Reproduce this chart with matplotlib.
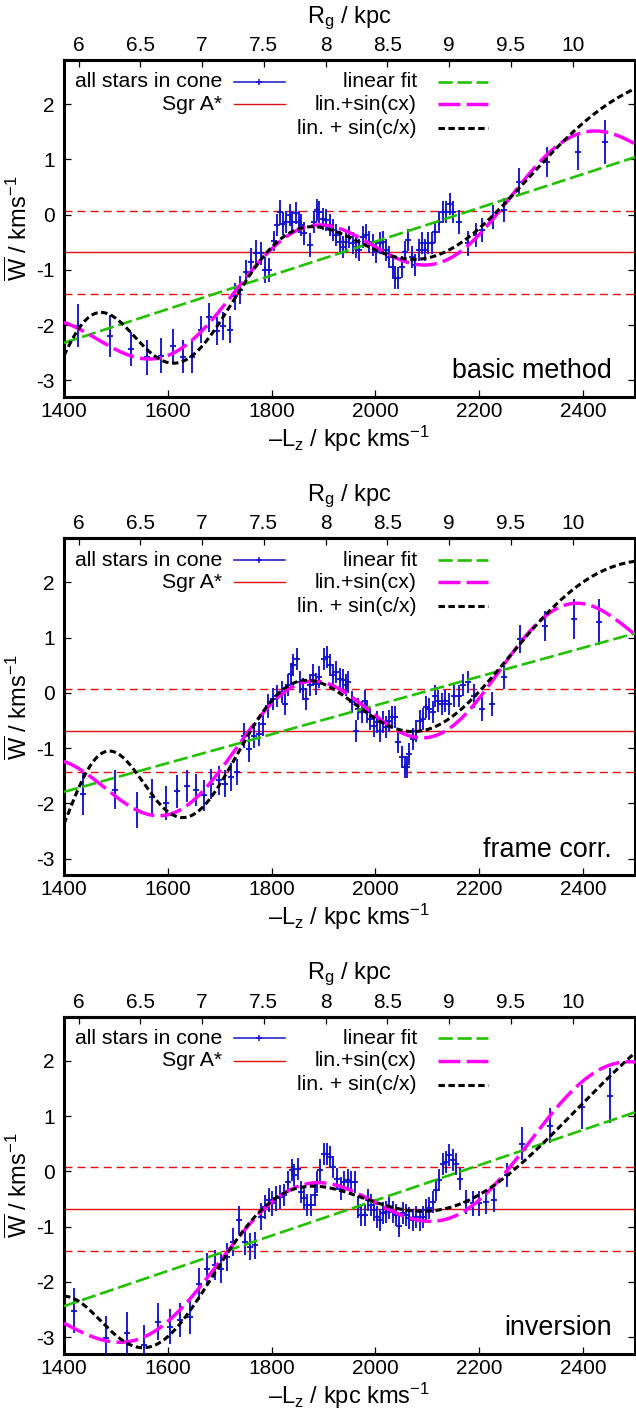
import numpy as np
import matplotlib
matplotlib.use("Agg")
import matplotlib.pyplot as plt

plt.rcParams['font.family'] = ['Liberation Sans', 'DejaVu Sans']
plt.rcParams['mathtext.fontset'] = 'custom'
plt.rcParams['mathtext.rm'] = 'Liberation Sans'
plt.rcParams['mathtext.it'] = 'Liberation Sans'
plt.rcParams['mathtext.default'] = 'regular'
plt.rcParams['axes.unicode_minus'] = False

# ---------------------------------------------------------------- data
panel_titles = ["basic method", "frame corr.", "inversion"]

lz_basic = [1427, 1488, 1529, 1560, 1587, 1610, 1629, 1647, 1664, 1679, 1694, 1706, 1719,
            1729, 1740, 1751, 1761, 1770, 1780, 1788, 1794, 1805, 1811, 1817, 1822, 1828,
            1835, 1839, 1846, 1852, 1857, 1863, 1873, 1881, 1887, 1892, 1899, 1905, 1912,
            1918, 1924, 1931, 1937, 1944, 1950, 1956, 1963, 1969, 1976, 1982, 1988, 1995,
            2001, 2008, 2014, 2020, 2027, 2033, 2038, 2044, 2051, 2057, 2063, 2070, 2076,
            2083, 2089, 2095, 2102, 2108, 2115, 2123, 2130, 2136, 2144, 2150, 2161, 2179,
            2193, 2206, 2226, 2248, 2277, 2330, 2390, 2442]
w_basic = [-2.01, -2.20, -2.43, -2.58, -2.55, -2.37, -2.57, -2.58, -2.08, -1.86, -2.11, -2.02, -2.08,
           -1.48, -1.36, -1.03, -0.85, -0.70, -0.70, -1.00, -1.00, -0.47, -0.19, 0.05, -0.16, -0.14,
           0.00, -0.13, 0.03, -0.14, -0.19, -0.34, -0.55, -0.13, 0.08, 0.05, -0.07, -0.10, -0.19,
           -0.28, -0.37, -0.49, -0.58, -0.49, -0.40, -0.52, -0.58, -0.64, -0.40, -0.37, -0.49, -0.55,
           -0.67, -0.52, -0.49, -0.64, -0.76, -0.94, -1.15, -1.15, -0.94, -0.67, -0.46, -0.76, -0.91,
           -0.64, -0.52, -0.64, -0.52, -0.52, -0.31, -0.13, 0.05, 0.05, 0.20, 0.05, -0.13, -0.52,
           -0.37, -0.28, -0.04, 0.08, 0.60, 0.96, 1.13, 1.32]
err_basic = [0.39, 0.38, 0.30, 0.32, 0.31, 0.30, 0.30, 0.29, 0.25, 0.27, 0.25, 0.25, 0.25,
             0.24, 0.25, 0.21, 0.24, 0.24, 0.21, 0.24, 0.22, 0.18, 0.20, 0.21, 0.20, 0.20,
             0.20, 0.20, 0.20, 0.20, 0.20, 0.20, 0.22, 0.20, 0.20, 0.20, 0.20, 0.20, 0.20,
             0.20, 0.20, 0.20, 0.20, 0.20, 0.20, 0.20, 0.20, 0.20, 0.20, 0.20, 0.20, 0.20,
             0.20, 0.20, 0.20, 0.20, 0.20, 0.20, 0.20, 0.20, 0.20, 0.20, 0.20, 0.20, 0.20,
             0.20, 0.20, 0.20, 0.20, 0.20, 0.20, 0.20, 0.20, 0.20, 0.20, 0.20, 0.22, 0.22,
             0.22, 0.22, 0.22, 0.22, 0.25, 0.27, 0.33, 0.40]

lz_frame = [1437, 1498, 1540, 1570, 1597, 1618, 1637, 1655, 1669, 1684, 1698, 1711, 1721,
            1734, 1747, 1756, 1766, 1775, 1783, 1793, 1803, 1811, 1820, 1825, 1831, 1838,
            1842, 1848, 1854, 1860, 1867, 1873, 1880, 1886, 1892, 1901, 1907, 1912, 1918,
            1924, 1931, 1937, 1944, 1948, 1955, 1963, 1967, 1974, 1979, 1984, 1990, 1997,
            2003, 2008, 2014, 2021, 2027, 2031, 2037, 2044, 2051, 2056, 2060, 2065, 2072,
            2078, 2085, 2091, 2098, 2104, 2110, 2115, 2121, 2128, 2134, 2142, 2151, 2160,
            2168, 2178, 2190, 2206, 2224, 2248, 2279, 2326, 2382, 2431]
w_frame = [-1.82, -1.75, -2.12, -1.88, -1.99, -1.78, -1.69, -1.76, -1.85, -1.64, -1.58, -1.64, -1.52,
           -1.43, -0.77, -1.01, -0.77, -0.74, -0.56, -0.23, -0.11, -0.05, 0.02, -0.20, 0.14, 0.35,
           0.50, 0.62, 0.20, 0.08, -0.11, 0.14, 0.32, 0.17, 0.29, 0.62, 0.65, 0.50, 0.32,
           0.38, 0.26, 0.23, 0.14, 0.20, -0.17, -0.68, -0.29, -0.35, -0.14, -0.35, -0.47, -0.59,
           -0.53, -0.68, -0.53, -0.62, -0.50, -0.44, -0.44, -0.89, -1.16, -1.34, -1.34, -1.10, -0.83,
           -0.68, -0.50, -0.47, -0.26, -0.29, -0.35, -0.05, -0.14, -0.20, -0.14, -0.20, -0.05, -0.05,
           0.14, 0.20, -0.05, -0.29, -0.20, 0.29, 0.98, 1.22, 1.34, 1.28]
err_frame = [0.38, 0.35, 0.33, 0.32, 0.30, 0.30, 0.29, 0.29, 0.28, 0.27, 0.26, 0.25, 0.25,
             0.24, 0.22, 0.24, 0.22, 0.22, 0.22, 0.22, 0.20, 0.20, 0.20, 0.20, 0.20, 0.20,
             0.20, 0.20, 0.20, 0.20, 0.20, 0.20, 0.20, 0.20, 0.20, 0.20, 0.20, 0.20, 0.20,
             0.20, 0.20, 0.20, 0.20, 0.20, 0.20, 0.20, 0.20, 0.20, 0.20, 0.20, 0.20, 0.20,
             0.20, 0.20, 0.20, 0.20, 0.20, 0.20, 0.20, 0.20, 0.20, 0.20, 0.20, 0.20, 0.20,
             0.20, 0.20, 0.20, 0.20, 0.20, 0.20, 0.20, 0.20, 0.20, 0.20, 0.20, 0.20, 0.20,
             0.20, 0.20, 0.22, 0.22, 0.22, 0.22, 0.25, 0.27, 0.37, 0.42]

lz_inv = [1419, 1480, 1522, 1554, 1581, 1604, 1624, 1642, 1660, 1676, 1690, 1702, 1714,
          1726, 1738, 1749, 1759, 1768, 1779, 1787, 1794, 1801, 1809, 1817, 1824, 1831,
          1839, 1844, 1851, 1856, 1862, 1869, 1875, 1883, 1888, 1894, 1901, 1907, 1912,
          1918, 1926, 1934, 1940, 1947, 1953, 1960, 1966, 1972, 1979, 1985, 1992, 1998,
          2003, 2008, 2014, 2021, 2027, 2033, 2040, 2046, 2053, 2059, 2065, 2072, 2078,
          2085, 2091, 2098, 2104, 2110, 2117, 2123, 2130, 2136, 2142, 2149, 2155, 2163,
          2174, 2187, 2200, 2213, 2228, 2253, 2283, 2336, 2398, 2451]
w_inv = [-2.52, -3.01, -2.93, -3.14, -2.72, -2.81, -2.69, -2.64, -2.04, -1.76, -1.70, -1.76, -1.55,
         -1.28, -0.88, -1.28, -1.36, -1.34, -0.82, -0.64, -0.52, -0.58, -0.49, -0.46, -0.43, -0.19,
         0.02, -0.07, 0.05, -0.37, -0.49, -0.61, -0.61, -0.43, -0.19, 0.02, 0.32, 0.32, 0.26,
         0.08, -0.13, -0.31, -0.19, -0.16, -0.19, -0.19, -0.64, -0.79, -0.79, -0.52, -0.61, -0.70,
         -0.82, -0.88, -0.76, -0.73, -0.67, -0.73, -0.79, -0.98, -0.76, -0.79, -0.85, -0.88, -0.82,
         -0.88, -0.82, -0.70, -0.67, -0.55, -0.34, -0.16, 0.14, 0.17, 0.29, 0.20, 0.14, -0.13,
         -0.55, -0.58, -0.58, -0.55, -0.52, -0.07, 0.50, 0.83, 1.16, 1.37]
err_inv = [0.41, 0.40, 0.38, 0.36, 0.33, 0.32, 0.31, 0.30, 0.29, 0.28, 0.27, 0.26, 0.25,
           0.25, 0.25, 0.24, 0.24, 0.24, 0.24, 0.22, 0.22, 0.22, 0.22, 0.22, 0.20, 0.20,
           0.20, 0.20, 0.20, 0.20, 0.20, 0.20, 0.20, 0.20, 0.20, 0.20, 0.20, 0.20, 0.20,
           0.20, 0.20, 0.20, 0.20, 0.20, 0.20, 0.20, 0.20, 0.20, 0.20, 0.20, 0.20, 0.20,
           0.20, 0.20, 0.20, 0.20, 0.20, 0.20, 0.20, 0.20, 0.20, 0.20, 0.20, 0.20, 0.20,
           0.20, 0.20, 0.20, 0.20, 0.20, 0.20, 0.20, 0.20, 0.20, 0.20, 0.20, 0.20, 0.20,
           0.22, 0.22, 0.22, 0.22, 0.22, 0.22, 0.30, 0.32, 0.40, 0.50]

panel_lz = [lz_basic, lz_frame, lz_inv]
panel_w = [w_basic, w_frame, w_inv]
panel_err = [err_basic, err_frame, err_inv]

# Sgr A* reference velocity and its uncertainty
sgr_w = -0.68
sgr_err = 0.755

# linear fit: W = a + b*(Lz - 2000)
lin_a = [-0.487, -0.225, -0.525]
lin_b = [0.003055, 0.002609, 0.003191]

# lin.+sin(cx): W = a + b*(Lz-2000) + S*sin(c*Lz) + C*cos(c*Lz)
scx_c = [0.0118534, 0.0123769, 0.0104917]
scx_a = [-0.5284, -0.2588, -0.5471]
scx_b = [0.003210, 0.002778, 0.003655]
scx_S = [-0.0516, -0.7082, 0.4245]
scx_C = [-0.7357, -0.4433, 0.7044]

# lin. + sin(c/x): W = a + b*(Lz-2000) + S*sin(k/Lz) + C*cos(k/Lz)
sinv_k = [43766.98, 46692.22, 35911.33]
sinv_a = [-0.4381, -0.1429, -0.4658]
sinv_b = [0.003914, 0.003425, 0.004337]
sinv_S = [-0.7540, 0.1410, 0.5938]
sinv_C = [0.1196, 0.8517, 0.5897]

v_circ = 238.0          # Rg = -Lz / v_circ
xticks_lz = [1400, 1600, 1800, 2000, 2200, 2400]
xticks_rg = [6, 6.5, 7, 7.5, 8, 8.5, 9, 9.5, 10]
yticks = [-3, -2, -1, 0, 1, 2]

# ---------------------------------------------------------------- style
C_BLUE = '#1414cc'
C_RED = '#e01010'
C_GREEN = '#22c000'
C_MAG = '#ff00ff'
C_BLK = '#000000'

LS_GREEN = (0, (5.4, 1.8))
LS_MAG = (0, (6.3, 1.8))
LS_BLK = (0, (2.1, 1.15))
LS_RED = (0, (5.8, 3.6))

FS_TICK = 15
FS_KEY = 15.3
FS_LABEL = 17
FS_TITLE = 19.4
EB_LW = 1.35

W, H = 636, 1412
fig = plt.figure(figsize=(W / 100, H / 100), dpi=100)

ax_left = 64 / W
ax_w = 571 / W
ax_h = 337 / H
tops = [60, 538.3, 1016.7]

xs = np.linspace(1400, 2500, 1200)

for i in range(3):
    bottom = 1 - (tops[i] + 337) / H
    ax = fig.add_axes([ax_left, bottom, ax_w, ax_h])
    ax.set_xlim(1400, 2500)
    ax.set_ylim(-3.3, 2.8)

    # data with error bars
    ax.errorbar(panel_lz[i], panel_w[i], yerr=panel_err[i], fmt='+', color=C_BLUE,
                ms=4.6, mew=EB_LW, elinewidth=EB_LW, capsize=0, zorder=3)

    # Sgr A* level and its error band
    ax.axhline(sgr_w, color=C_RED, lw=1.0, zorder=2)
    ax.axhline(sgr_w + sgr_err, color=C_RED, lw=1.0, ls=LS_RED, zorder=2)
    ax.axhline(sgr_w - sgr_err, color=C_RED, lw=1.0, ls=LS_RED, zorder=2)

    # fits
    y_lin = lin_a[i] + lin_b[i] * (xs - 2000)
    y_scx = (scx_a[i] + scx_b[i] * (xs - 2000)
             + scx_S[i] * np.sin(scx_c[i] * xs) + scx_C[i] * np.cos(scx_c[i] * xs))
    y_inv = (sinv_a[i] + sinv_b[i] * (xs - 2000)
             + sinv_S[i] * np.sin(sinv_k[i] / xs) + sinv_C[i] * np.cos(sinv_k[i] / xs))
    ax.plot(xs, y_lin, color=C_GREEN, lw=1.9, ls=LS_GREEN, zorder=4)
    ax.plot(xs, y_scx, color=C_MAG, lw=2.5, ls=LS_MAG, zorder=5)
    ax.plot(xs, y_inv, color=C_BLK, lw=2.2, ls=LS_BLK, zorder=6)

    # axes cosmetics
    for sp in ax.spines.values():
        sp.set_linewidth(2.2)
    ax.set_xticks(xticks_lz)
    ax.set_yticks(yticks)
    ax.set_yticklabels([str(v) for v in yticks])
    ax.tick_params(direction='in', length=5, width=0.9, labelsize=FS_TICK,
                   top=False, right=True)
    ax.tick_params(axis='x', pad=3.6)
    ax.tick_params(axis='y', pad=6.5)
    ax.set_xlabel(r'–L$_{z}$ / kpc kms$^{-1}$', fontsize=FS_LABEL, labelpad=2)
    ax.set_ylabel(r'$\overline{W}$ / kms$^{-1}$', fontsize=FS_LABEL, labelpad=3)

    sec = ax.secondary_xaxis('top', functions=(lambda x: x / v_circ, lambda r: r * v_circ))
    sec.set_xticks(xticks_rg)
    sec.set_xticklabels(['%g' % v for v in xticks_rg])
    sec.tick_params(direction='in', length=5, width=0.9, labelsize=FS_TICK, pad=3.6)
    sec.spines['top'].set_linewidth(2.2)
    sec.set_xlabel(r'R$_{g}$ / kpc', fontsize=FS_LABEL, labelpad=9.5)

    # key
    tr = ax.transAxes
    rows = [0.9356, 0.8694, 0.798]
    c1_txt, c1_a, c1_b = 0.2767, 0.2977, 0.387
    c2_txt, c2_a, c2_b = 0.618, 0.655, 0.7426
    ax.text(c1_txt, rows[0], 'all stars in cone', transform=tr, ha='right', va='center',
            fontsize=FS_KEY)
    ax.plot([c1_a, c1_b], [rows[0], rows[0]], transform=tr, color=C_BLUE, lw=1.1)
    ax.plot([(c1_a + c1_b) / 2], [rows[0]], transform=tr, color=C_BLUE, marker='+',
            ms=4.6, mew=1.1)
    ax.text(c1_txt, rows[1], 'Sgr A*', transform=tr, ha='right', va='center', fontsize=FS_KEY)
    ax.plot([c1_a, c1_b], [rows[1], rows[1]], transform=tr, color=C_RED, lw=1.0)
    ax.text(c2_txt, rows[0], 'linear fit', transform=tr, ha='right', va='center', fontsize=FS_KEY)
    ax.plot([c2_a, c2_b], [rows[0], rows[0]], transform=tr, color=C_GREEN, lw=1.9, ls=LS_GREEN)
    ax.text(c2_txt, rows[1], 'lin.+sin(cx)', transform=tr, ha='right', va='center',
            fontsize=FS_KEY)
    ax.plot([c2_a, c2_b], [rows[1], rows[1]], transform=tr, color=C_MAG, lw=2.5, ls=LS_MAG)
    ax.text(c2_txt, rows[2], 'lin. + sin(c/x)', transform=tr, ha='right', va='center',
            fontsize=FS_KEY)
    ax.plot([c2_a, c2_b], [rows[2], rows[2]], transform=tr, color=C_BLK, lw=2.2, ls=LS_BLK)

    ax.text(0.96, 0.055, panel_titles[i], transform=tr, ha='right', va='baseline',
            fontsize=FS_TITLE)

fig.savefig("out.png", dpi=100)
